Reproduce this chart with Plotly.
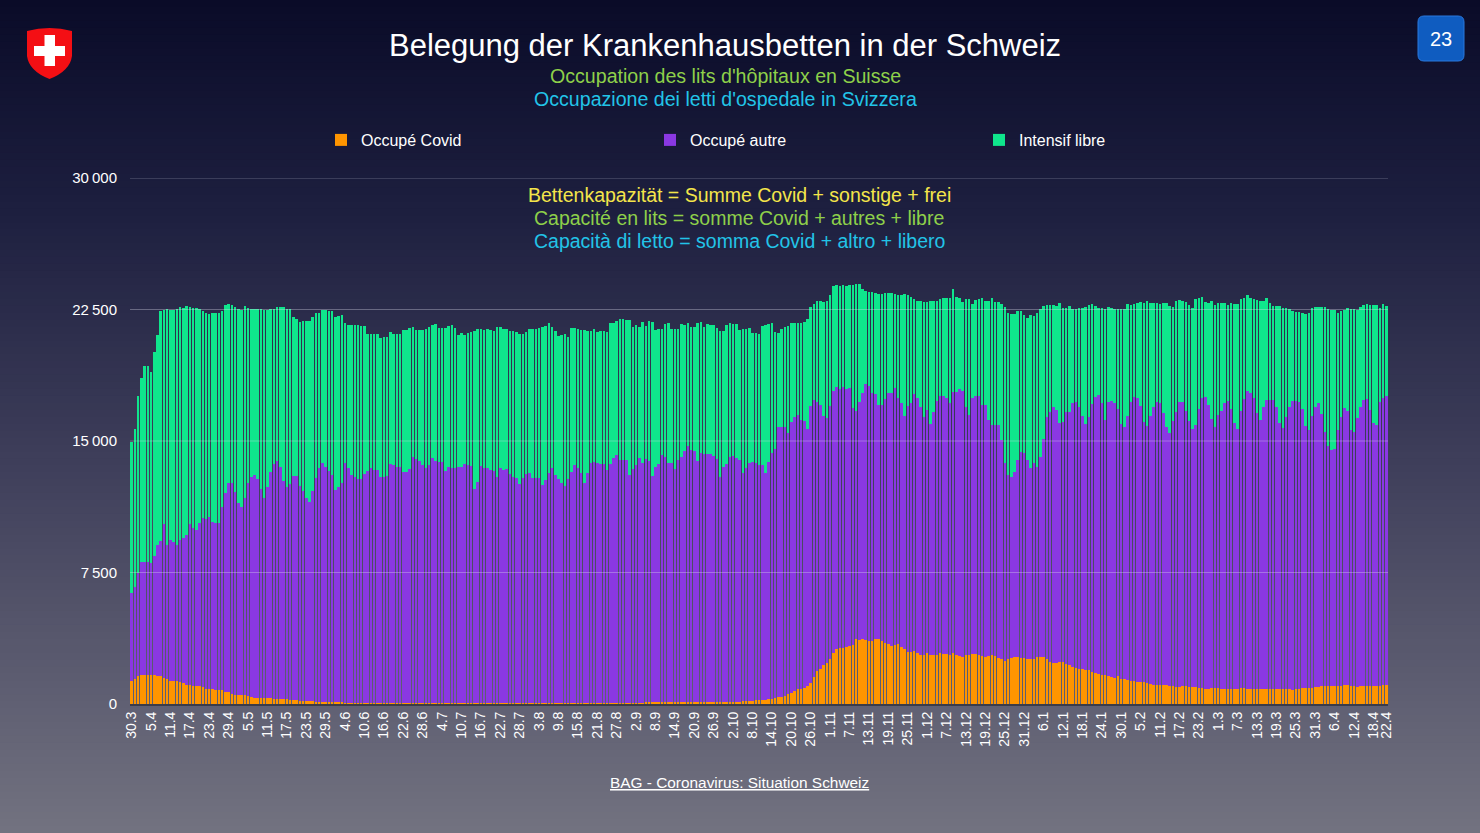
import plotly.graph_objects as go
import pandas as pd

# ---------------- data ----------------
dates = pd.date_range("2020-03-30", "2021-04-22", freq="D")

# Occupé Covid (orange)
covid = [
    1290, 1440, 1610, 1650, 1650, 1640, 1640, 1630, 1620, 1600,
    1500, 1400, 1300, 1290, 1290, 1280, 1180, 1100, 1070, 1030,
    1030, 1020, 950, 880, 870, 840, 800, 800, 790, 700,
    660, 570, 530, 500, 490, 490, 460, 420, 370, 360,
    360, 350, 320, 320, 310, 310, 270, 260, 260, 250,
    230, 220, 180, 170, 170, 150, 150, 140, 140, 120,
    110, 110, 100, 100, 90, 90, 80, 80, 70, 70,
    70, 60, 60, 60, 50, 50, 50, 50, 50, 40,
    40, 40, 40, 40, 40, 40, 40, 40, 40, 40,
    40, 40, 40, 40, 40, 40, 40, 40, 40, 40,
    40, 40, 40, 40, 40, 40, 40, 40, 50, 50,
    50, 50, 50, 50, 50, 50, 50, 50, 50, 60,
    60, 60, 60, 60, 60, 60, 60, 60, 60, 60,
    60, 60, 60, 60, 60, 70, 70, 70, 70, 70,
    70, 70, 70, 70, 80, 80, 80, 80, 80, 80,
    80, 80, 80, 80, 80, 80, 80, 80, 80, 90,
    90, 90, 90, 90, 90, 90, 90, 90, 90, 90,
    110, 120, 130, 130, 120, 110, 110, 100, 100, 100,
    100, 100, 110, 110, 110, 110, 110, 110, 140, 150,
    150, 150, 160, 200, 220, 230, 240, 280, 300, 330,
    380, 400, 460, 570, 650, 760, 840, 875, 910, 1030,
    1220, 1520, 1900, 1980, 2220, 2360, 2550, 2930, 3120, 3190,
    3170, 3270, 3330, 3370, 3690, 3650, 3690, 3650, 3610, 3610,
    3690, 3690, 3610, 3500, 3400, 3310, 3350, 3400, 3230, 3120,
    2980, 2980, 3000, 2890, 2790, 2790, 2890, 2790, 2790, 2790,
    2890, 2850, 2830, 2790, 2890, 2790, 2740, 2700, 2790, 2790,
    2850, 2830, 2790, 2740, 2700, 2750, 2790, 2750, 2600, 2550,
    2450, 2550, 2600, 2660, 2700, 2600, 2640, 2570, 2550, 2550,
    2660, 2660, 2660, 2550, 2410, 2320, 2320, 2370, 2370, 2260,
    2210, 2130, 2050, 2010, 1980, 1960, 1940, 1840, 1750, 1690,
    1630, 1630, 1600, 1560, 1460, 1600, 1410, 1410, 1370, 1330,
    1290, 1250, 1230, 1250, 1180, 1140, 1100, 1080, 1060, 1060,
    1060, 1030, 1010, 990, 990, 1030, 1010, 990, 950, 950,
    930, 910, 870, 870, 890, 910, 910, 870, 840, 860,
    840, 860, 870, 890, 910, 870, 870, 860, 840, 840,
    840, 840, 840, 840, 860, 870, 840, 860, 840, 820,
    840, 870, 910, 910, 910, 930, 950, 990, 1030, 1030,
    1030, 1030, 1030, 1010, 1050, 1060, 1060, 1050, 1030, 990,
    1030, 1030, 1030, 1030, 1030, 1030, 1050, 1060, 1060,
]

# Occupé total = Covid + autre (top of the purple segment)
occupied_total = [
    6330, 6650, 7470, 8120, 8120, 8100, 8050, 8440, 9080, 9300,
    10240, 9080, 9340, 9230, 9080, 9340, 9490, 9660, 10240, 10010,
    9920, 10300, 10590, 10530, 10680, 10400, 10300, 10300, 11210, 12010,
    12580, 12580, 12100, 11440, 11210, 11730, 12580, 12960, 13060, 12810,
    12240, 11770, 12350, 13250, 13670, 13880, 13540, 12740, 12390, 12520,
    13000, 13000, 12430, 12150, 11770, 11540, 12170, 12870, 13440, 13730,
    13540, 13290, 13060, 12200, 12350, 12620, 13720, 13440, 13060, 12930,
    12810, 12830, 13120, 13310, 13440, 13350, 13350, 12930, 12930, 13020,
    13680, 13630, 13500, 13500, 13210, 13250, 13380, 14070, 13950, 13840,
    13630, 13480, 13610, 14050, 13880, 13820, 13800, 13270, 13500, 13460,
    13480, 13540, 13500, 13670, 13610, 13570, 12240, 12640, 13570, 13480,
    13440, 13350, 13270, 12960, 13440, 13350, 13380, 13120, 12930, 12870,
    12550, 12870, 13120, 13190, 12890, 12890, 12890, 12470, 12780, 13190,
    13480, 13040, 12830, 12580, 12430, 12830, 13250, 13610, 13480, 13190,
    12580, 13190, 13720, 13800, 13720, 13670, 13670, 13350, 13670, 14050,
    14200, 13920, 13920, 13920, 13080, 13420, 13630, 14010, 13760, 13970,
    13880, 13000, 13500, 13690, 14200, 14070, 13760, 13760, 13380, 13920,
    14070, 14430, 14710, 14490, 14430, 13860, 14330, 14260, 14260, 14260,
    14140, 13950, 12930, 13500, 13690, 14070, 14140, 14010, 13920, 13150,
    13440, 13760, 13820, 13720, 13630, 13630, 13190, 13820, 14300, 14520,
    15820, 15820, 15780, 15470, 16100, 16390, 16460, 16200, 16160, 15660,
    17000, 17340, 17240, 17050, 16420, 16290, 17000, 17870, 18100, 17980,
    18100, 17980, 18000, 16860, 16730, 17240, 17720, 18250, 18140, 17720,
    17680, 17050, 17050, 17380, 17720, 17720, 18000, 17430, 17150, 16420,
    17000, 17150, 17680, 17430, 16960, 16390, 16770, 15970, 16670, 17300,
    17570, 17570, 17430, 17190, 17810, 17810, 17950, 17870, 16960, 16480,
    17450, 17570, 17570, 17050, 17050, 16200, 15910, 15910, 15910, 15060,
    13760, 13060, 12930, 13250, 13920, 14390, 14330, 13920, 13440, 13720,
    13540, 14110, 15090, 16390, 16670, 16920, 16770, 16010, 16100, 16670,
    16670, 17150, 17240, 16920, 16420, 15970, 16390, 17110, 17530, 17620,
    17150, 16200, 17240, 17280, 17150, 16810, 15970, 15780, 16420, 17240,
    17490, 17430, 17000, 16100, 15850, 16420, 16960, 17240, 17190, 16620,
    15820, 15440, 16160, 16670, 17240, 17220, 16730, 16160, 15660, 15910,
    16810, 17430, 17530, 17050, 16240, 15820, 16460, 16730, 17190, 17300,
    16810, 16010, 15680, 16730, 17380, 17870, 17760, 17430, 16580, 16200,
    16920, 17340, 17340, 17340, 16920, 16010, 15720, 16390, 16960, 17300,
    17300, 17210, 16810, 15850, 15630, 16420, 16960, 17190, 16540, 15530,
    14710, 14490, 14520, 15630, 16390, 16860, 16730, 15630, 15530, 16330,
    16960, 17340, 17380, 16770, 16050, 15910, 17240, 17430, 17570,
]

# Bettenkapazität = Covid + autre + libre (top of the green segment)
capacity_total = [
    14960, 15670, 17560, 18610, 19260, 19260, 18960, 20070, 21040, 22390,
    22480, 22540, 22500, 22500, 22540, 22650, 22610, 22690, 22670, 22610,
    22560, 22510, 22400, 22300, 22260, 22300, 22300, 22300, 22440, 22750,
    22810, 22750, 22620, 22510, 22500, 22700, 22560, 22510, 22510, 22510,
    22510, 22500, 22490, 22510, 22510, 22620, 22620, 22620, 22510, 22510,
    22090, 21940, 21810, 21850, 21850, 21850, 22090, 22280, 22280, 22490,
    22470, 22410, 22410, 22050, 22130, 22180, 21750, 21590, 21590, 21590,
    21590, 21560, 21560, 21100, 21100, 21100, 21100, 20890, 20910, 20950,
    21220, 21100, 21100, 21100, 21330, 21330, 21440, 21480, 21330, 21330,
    21330, 21400, 21520, 21590, 21650, 21420, 21420, 21420, 21550, 21640,
    21420, 21020, 21180, 21020, 21140, 21220, 21290, 21400, 21370, 21330,
    21380, 21330, 21290, 21520, 21520, 21400, 21400, 21290, 21290, 21230,
    21100, 21100, 21220, 21370, 21380, 21400, 21440, 21520, 21550, 21750,
    21520, 21290, 20990, 21040, 21100, 20910, 21420, 21420, 21370, 21330,
    21330, 21270, 21270, 21370, 21230, 21270, 21270, 21220, 21710, 21710,
    21860, 21940, 21940, 21900, 21900, 21480, 21590, 21480, 21770, 21550,
    21820, 21780, 21330, 21370, 21370, 21670, 21710, 21400, 21400, 21370,
    21670, 21590, 21710, 21480, 21480, 21710, 21770, 21480, 21670, 21610,
    21610, 21420, 21290, 21250, 21610, 21710, 21670, 21670, 21330, 21370,
    21400, 21440, 21140, 21140, 21100, 21550, 21630, 21670, 21710, 21220,
    21180, 21370, 21480, 21550, 21750, 21750, 21710, 21750, 21780, 21940,
    22620, 22810, 23000, 22960, 22930, 23000, 23320, 23840, 23900, 23840,
    23880, 23840, 23880, 23900, 23950, 23950, 23650, 23570, 23520, 23500,
    23460, 23380, 23380, 23420, 23420, 23420, 23380, 23340, 23300, 23380,
    23340, 23190, 23120, 23000, 23000, 22950, 22950, 22960, 23000, 23000,
    23080, 23140, 23140, 23140, 23690, 23190, 23160, 22930, 23080, 23080,
    22810, 23040, 23120, 23160, 23000, 23000, 23160, 22930, 22930, 22810,
    22620, 22320, 22240, 22240, 22430, 22390, 22180, 22000, 22180, 22130,
    22280, 22550, 22700, 22770, 22770, 22770, 22700, 22850, 22570, 22600,
    22700, 22510, 22550, 22590, 22600, 22620, 22770, 22790, 22700, 22590,
    22570, 22550, 22660, 22600, 22550, 22550, 22510, 22510, 22810, 22770,
    22810, 22850, 22930, 22890, 23000, 22890, 22890, 22890, 22810, 22850,
    22890, 22700, 22660, 23000, 23040, 22960, 22930, 22740, 22590, 23120,
    23160, 23190, 22930, 22890, 22960, 22770, 22850, 22850, 22890, 22770,
    22850, 22810, 22810, 23120, 23160, 23340, 23140, 23080, 23040, 22960,
    23000, 23160, 22890, 22700, 22700, 22700, 22570, 22590, 22510, 22390,
    22370, 22350, 22320, 22240, 22280, 22570, 22660, 22660, 22660, 22620,
    22510, 22470, 22470, 22280, 22390, 22470, 22570, 22550, 22510, 22470,
    22620, 22740, 22810, 22770, 22770, 22770, 22590, 22810, 22700,
]

tick_labels = ["30.3", "5.4", "11.4", "17.4", "23.4", "29.4", "5.5", "11.5", "17.5", "23.5",
               "29.5", "4.6", "10.6", "16.6", "22.6", "28.6", "4.7", "10.7", "16.7", "22.7",
               "28.7", "3.8", "9.8", "15.8", "21.8", "27.8", "2.9", "8.9", "14.9", "20.9",
               "26.9", "2.10", "8.10", "14.10", "20.10", "26.10", "1.11", "7.11", "13.11", "19.11",
               "25.11", "1.12", "7.12", "13.12", "19.12", "25.12", "31.12", "6.1", "12.1", "18.1",
               "24.1", "30.1", "5.2", "11.2", "17.2", "23.2", "1.3", "7.3", "13.3", "19.3",
               "25.3", "31.3", "6.4", "12.4", "18.4", "22.4"]
y_ticks = [0, 7500, 15000, 22500, 30000]
y_tick_labels = ["0", "7\u2009500", "15\u2009000", "22\u2009500", "30\u2009000"]

series_names = ["Occupé Covid", "Occupé autre", "Intensif libre"]

# derived stack segments
autre = [o - c for o, c in zip(occupied_total, covid)]
libre = [t - o for t, o in zip(capacity_total, occupied_total)]

# ---------------- layout helpers ----------------
W, H = 1480, 833
L, R, T, B = 130, 92, 178, 129
PW, PH = W - L - R, H - T - B


def px(x):
    return (x - L) / PW


def py(y):
    return (H - B - y) / PH


FONT = "Liberation Sans, Arial, Helvetica, sans-serif"
C_ORANGE = "#ff9500"
C_PURPLE = "#8a38e2"
C_GREEN = "#0fe68c"

tick_idx = list(range(0, len(dates), 6)) + [len(dates) - 1]
tick_vals = [dates[i] for i in tick_idx]

fig = go.Figure()
for name, vals, col in zip(series_names, [covid, autre, libre], [C_ORANGE, C_PURPLE, C_GREEN]):
    fig.add_trace(go.Bar(x=dates, y=vals, name=name, marker=dict(color=col, line=dict(width=0)),
                         hoverinfo="skip"))

shapes = []
# background gradient
stops = [(0.0, (10, 11, 40)), (0.25, (29, 31, 63)), (0.55, (62, 62, 90)), (1.0, (114, 114, 128))]


def grad(t):
    for (t0, c0), (t1, c1) in zip(stops[:-1], stops[1:]):
        if t0 <= t <= t1:
            f = (t - t0) / (t1 - t0)
            return tuple(int(round(a + (b - a) * f)) for a, b in zip(c0, c1))
    return stops[-1][1]


NB = 120
for k in range(NB):
    y0p = H * k / NB
    y1p = H * (k + 1) / NB + 1
    c = grad((k + 0.5) / NB)
    shapes.append(dict(type="rect", xref="paper", yref="paper", x0=px(-2), x1=px(W + 2),
                       y0=py(y1p), y1=py(y0p), fillcolor="rgb(%d,%d,%d)" % c,
                       line=dict(width=0), layer="below"))

# grid lines drawn above bars (faint)
for v in y_ticks[1:]:
    shapes.append(dict(type="line", xref="paper", yref="y", x0=0, x1=1, y0=v, y1=v,
                       line=dict(color="rgba(220,220,235,0.35)", width=1), layer="above"))

# Swiss shield
shield = ("M {a},{b} Q {c},{d} {e},{b} L {e},{f} Q {g},{h} {i},{j} Q {k},{h} {a},{f} Z").format(
    a=px(27), b=py(31), c=px(49.5), d=py(25), e=px(72), f=py(56), g=px(70), h=py(71),
    i=px(49.5), j=py(79), k=px(29))
shapes.append(dict(type="path", xref="paper", yref="paper", path=shield,
                   fillcolor="#f40f14", line=dict(width=0), layer="above"))
shapes.append(dict(type="rect", xref="paper", yref="paper", x0=px(34), x1=px(65), y0=py(56), y1=py(46),
                   fillcolor="white", line=dict(width=0), layer="above"))
shapes.append(dict(type="rect", xref="paper", yref="paper", x0=px(44.5), x1=px(55), y0=py(66), y1=py(35),
                   fillcolor="white", line=dict(width=0), layer="above"))

# page badge
rx0, rx1, ry0, ry1, rr = 1418, 1464, 16, 61, 6
badge = ("M {x0r},{y0} L {x1r},{y0} Q {x1},{y0} {x1},{y0r} L {x1},{y1r} Q {x1},{y1} {x1r},{y1} "
         "L {x0r},{y1} Q {x0},{y1} {x0},{y1r} L {x0},{y0r} Q {x0},{y0} {x0r},{y0} Z").format(
    x0=px(rx0), x1=px(rx1), x0r=px(rx0 + rr), x1r=px(rx1 - rr),
    y0=py(ry0), y1=py(ry1), y0r=py(ry0 + rr), y1r=py(ry1 - rr))
shapes.append(dict(type="path", xref="paper", yref="paper", path=badge,
                   fillcolor="#0f5cc0", line=dict(color="#2a78dc", width=1), layer="above"))

annotations = [
    dict(text="23", x=px(1441), y=py(39), font=dict(size=20, color="white", family=FONT)),
    dict(text="Belegung der Krankenhausbetten in der Schweiz", x=px(725), y=py(45),
         font=dict(size=31, color="white", family=FONT)),
    dict(text="Occupation des lits d'hôpitaux en Suisse", x=px(725.5), y=py(76),
         font=dict(size=19.6, color="#8ed04a", family=FONT)),
    dict(text="Occupazione dei letti d'ospedale in Svizzera", x=px(725.5), y=py(99),
         font=dict(size=19.6, color="#22c4e8", family=FONT)),
    dict(text="Bettenkapazität = Summe Covid + sonstige + frei", x=px(739), y=py(195),
         font=dict(size=19.5, color="#f4e54a", family=FONT)),
    dict(text="Capacité en lits = somme Covid + autres + libre", x=px(739), y=py(218),
         font=dict(size=19.5, color="#8ed04a", family=FONT)),
    dict(text="Capacità di letto = somma Covid + altro + libero", x=px(739), y=py(241),
         font=dict(size=19.5, color="#22c4e8", family=FONT)),
    dict(text="<u>BAG - Coronavirus: Situation Schweiz</u>", x=px(739), y=py(782),
         font=dict(size=15.4, color="white", family=FONT)),
]
for a in annotations:
    a.update(xref="paper", yref="paper", showarrow=False, xanchor="center", yanchor="middle")

fig.update_layout(
    width=W, height=H,
    margin=dict(l=L, r=R, t=T, b=B),
    barmode="stack", bargap=0.22,
    paper_bgcolor="#2a2b48", plot_bgcolor="rgba(0,0,0,0)",
    font=dict(family=FONT, color="white"),
    showlegend=True,
    legend=dict(orientation="h", traceorder="normal", x=px(321), xanchor="left", y=py(140),
                yanchor="middle", entrywidth=284, entrywidthmode="pixels",
                font=dict(size=16, color="white", family=FONT),
                bgcolor="rgba(0,0,0,0)", itemclick=False, itemdoubleclick=False),
    shapes=shapes,
    annotations=annotations,
    xaxis=dict(type="date", range=[dates[0] - pd.Timedelta(hours=12), dates[-1] + pd.Timedelta(hours=12)],
               tickvals=tick_vals, ticktext=tick_labels, tickangle=-90, showgrid=False,
               tickfont=dict(size=14, color="white", family=FONT), ticks="",
               showline=True, linecolor="#3c3c48", linewidth=2, zeroline=False),
    yaxis=dict(range=[0, 30000], tickvals=y_ticks, ticktext=y_tick_labels, showgrid=False,
               zeroline=False, showline=False, ticks="", ticklabelstandoff=12,
               tickfont=dict(size=15, color="white", family=FONT)),
)

fig.write_html("out.html", config={"displayModeBar": False},
               post_script="document.body.style.margin='0';document.body.style.overflow='hidden';")
